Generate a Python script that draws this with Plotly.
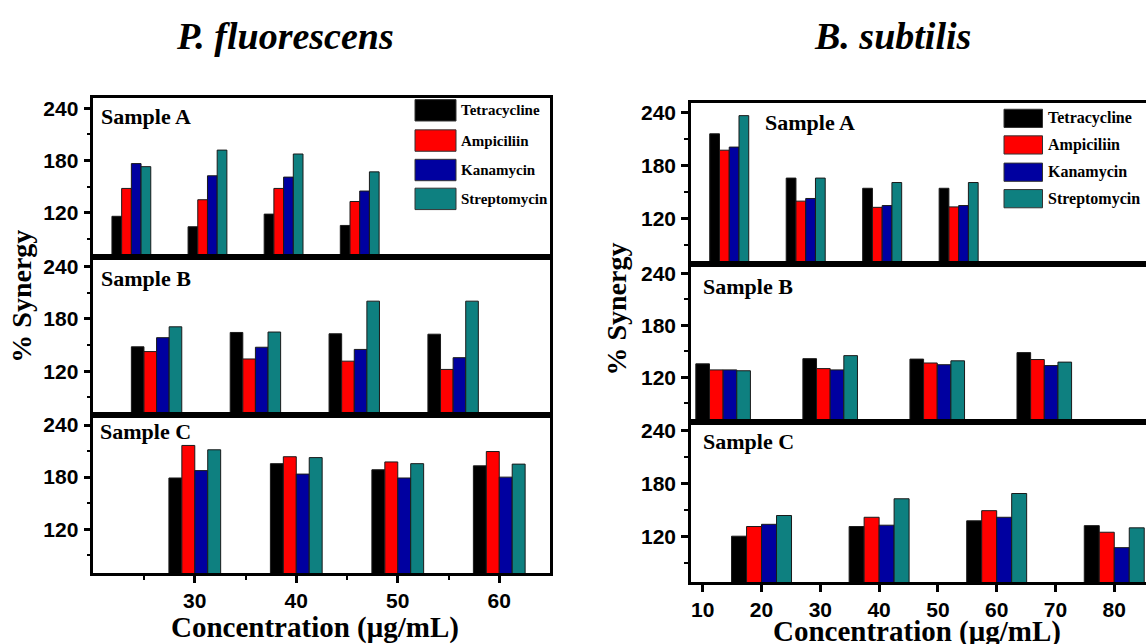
import plotly.graph_objects as go

# ---- data -------------------------------------------------------------
antibiotics = ["Tetracycline", "Ampiciliin", "Kanamycin", "Streptomycin"]
bar_colors = ["#000000", "#FF0000", "#0000A0", "#0E8080"]

conc_pf = [30, 40, 50, 60]          # P. fluorescens concentrations (µg/mL)
conc_bs = [20, 40, 60, 80]          # B. subtilis concentrations (µg/mL)

# % synergy, P. fluorescens
pf_a_tetra = [116, 104, 118.5, 105.5]
pf_a_ampi = [148, 135, 148, 133]
pf_a_kana = [176.5, 162.5, 161, 145]
pf_a_strep = [173, 192, 187.5, 167]

pf_b_tetra = [148, 164.5, 163, 162.5]
pf_b_ampi = [142.5, 134, 131.5, 122]
pf_b_kana = [158.5, 147.5, 145, 135.5]
pf_b_strep = [171, 165, 200.5, 200.5]

pf_c_tetra = [179, 195.5, 188.5, 193]
pf_c_ampi = [216.5, 203.5, 197.5, 209.5]
pf_c_kana = [187.5, 183.5, 179, 180]
pf_c_strep = [211.5, 202.5, 195.5, 195]

# % synergy, B. subtilis
bs_a_tetra = [216, 166, 154.5, 154.5]
bs_a_ampi = [197.5, 140, 133, 133.5]
bs_a_kana = [201, 143, 135, 135]
bs_a_strep = [236.5, 166, 161, 161]

bs_b_tetra = [135.5, 141.5, 141, 148.5]
bs_b_ampi = [128.5, 130, 136.5, 140.5]
bs_b_kana = [128.5, 128.5, 134.5, 133.5]
bs_b_strep = [127.5, 145, 139, 137.5]

bs_c_tetra = [120.5, 131.5, 138, 132.5]
bs_c_ampi = [131.5, 142, 149.5, 125]
bs_c_kana = [134, 133, 142, 107.5]
bs_c_strep = [144, 163, 169, 130]

y_ticks = [120, 180, 240]
y_minor = [90, 150, 210]
pf_x_ticks = [30, 40, 50, 60]
pf_x_minor = [25, 35, 45, 55]
bs_x_ticks = [10, 20, 30, 40, 50, 60, 70, 80]

# ---- page geometry (pixels) ------------------------------------------
W, H = 1146, 644


def fx(p):
    return p / W


def fy(p):
    return 1 - p / H


SERIF = "Liberation Serif"
SANS = "Liberation Sans"

panels = [
    # n, x values, series, x range, y range, x domain px, y domain px, label, left chart?
    (1, conc_pf, [pf_a_tetra, pf_a_ampi, pf_a_kana, pf_a_strep], [25, 85], [69.5, 251.5],
     (93.3, 550), (95.7, 255), "Sample A", True),
    (2, conc_pf, [pf_b_tetra, pf_b_ampi, pf_b_kana, pf_b_strep], [23.6, 69.8], [69.5, 251.5],
     (93.3, 550), (255, 414), "Sample B", True),
    (3, conc_pf, [pf_c_tetra, pf_c_ampi, pf_c_kana, pf_c_strep], [20, 65], [69.5, 251.5],
     (93.3, 550), (414, 572.7), "Sample C", True),
    (4, conc_bs, [bs_a_tetra, bs_a_ampi, bs_a_kana, bs_a_strep], [10, 129], [68.5, 250.5],
     (691, 1146), (100.7, 262.7), "Sample A", False),
    (5, conc_bs, [bs_b_tetra, bs_b_ampi, bs_b_kana, bs_b_strep], [14, 99], [68.5, 250.5],
     (691, 1146), (262.7, 420.7), "Sample B", False),
    (6, conc_bs, [bs_c_tetra, bs_c_ampi, bs_c_kana, bs_c_strep], [8, 85.4], [68.5, 250.5],
     (691, 1146), (420.7, 581.7), "Sample C", False),
]

fig = go.Figure()
layout = {}
annotations = []
shapes = []

label_pos = {
    1: (98.5, 114), 2: (98.5, 277), 3: (97.5, 430.5),
    4: (762.5, 120), 5: (700.5, 285), 6: (700.5, 441),
}

tick_font = dict(family=SANS, size=21, color="black", weight="bold")

for n, xs, series, xr, yr, (x0, x1), (y0, y1), label, left in panels:
    xa = "x" if n == 1 else f"x{n}"
    ya = "y" if n == 1 else f"y{n}"
    for name, color, vals in zip(antibiotics, bar_colors, series):
        fig.add_trace(go.Bar(
            x=xs, y=vals, name=name, xaxis=xa, yaxis=ya,
            marker=dict(color=color, line=dict(color="#1a1a1a", width=1)),
            showlegend=False,
        ))
    bottom = n in (3, 6)
    xaxis = dict(
        domain=[fx(x0), fx(x1)], range=xr, anchor=ya,
        showline=True, linewidth=2.5, linecolor="black", mirror=True,
        showgrid=False, zeroline=False, fixedrange=True,
    )
    if bottom:
        xaxis.update(
            tickvals=pf_x_ticks if left else bs_x_ticks,
            ticks="outside", ticklen=7, tickwidth=2.5, tickcolor="black",
            tickfont=tick_font,
            ticklabelstandoff=0,
        )
        if left:
            xaxis["minor"] = dict(tickvals=pf_x_minor, ticks="outside",
                                  ticklen=4, tickwidth=2, tickcolor="black")
    else:
        xaxis.update(showticklabels=False, ticks="")
    yaxis = dict(
        domain=[fy(y1), fy(y0)], range=yr, anchor=xa,
        showline=True, linewidth=2.5, linecolor="black", mirror=left,
        showgrid=False, zeroline=False, fixedrange=True,
        tickvals=y_ticks, ticks="outside", ticklen=7, tickwidth=2.5, tickcolor="black",
        tickfont=tick_font, ticklabelstandoff=1,
        minor=dict(tickvals=y_minor, ticks="outside", ticklen=4, tickwidth=2,
                   tickcolor="black"),
    )
    layout["xaxis" if n == 1 else f"xaxis{n}"] = xaxis
    layout["yaxis" if n == 1 else f"yaxis{n}"] = yaxis

    lx, ly = label_pos[n]
    annotations.append(dict(
        text=label, xref="paper", yref="paper", x=fx(lx), y=fy(ly),
        xanchor="left", yanchor="middle", showarrow=False,
        font=dict(family=SERIF, size=22, color="black", weight="bold"),
    ))

# legend swatches and names inside each "Sample A" panel
legend_specs = [
    # box x0, box x1, text x, row centres, box height, font size
    (415, 456, 459, [107.8, 138.2, 167.8, 196.8], 21.5, 15),
    (1004, 1042.5, 1046, [115.9, 142.6, 170.0, 196.6], 18.3, 16),
]
for bx0, bx1, tx, rows, bh, fs in legend_specs:
    for name, color, cy in zip(antibiotics, bar_colors, rows):
        shapes.append(dict(
            type="rect", xref="paper", yref="paper",
            x0=fx(bx0), x1=fx(bx1), y0=fy(cy + bh / 2), y1=fy(cy - bh / 2),
            fillcolor=color, line=dict(color="#333333", width=1),
        ))
        annotations.append(dict(
            text=name, xref="paper", yref="paper", x=fx(tx), y=fy(cy),
            xanchor="left", yanchor="middle", showarrow=False,
            font=dict(family=SERIF, size=fs, color="black", weight="bold"),
        ))

# chart titles
for text, cx in [("P. fluorescens", 285), ("B. subtilis", 892)]:
    annotations.append(dict(
        text=text, xref="paper", yref="paper", x=fx(cx), y=fy(33),
        xanchor="center", yanchor="middle", showarrow=False,
        font=dict(family=SERIF, size=38, color="black", weight="bold", style="italic"),
    ))

# y-axis titles
for cx, cy in [(22, 295), (617, 308)]:
    annotations.append(dict(
        text="% Synergy", xref="paper", yref="paper", x=fx(cx), y=fy(cy),
        xanchor="center", yanchor="middle", showarrow=False, textangle=-90,
        font=dict(family=SERIF, size=28, color="black", weight="bold"),
    ))

# x-axis titles
for cx, cy in [(314.5, 627), (917, 631)]:
    annotations.append(dict(
        text="Concentration (μg/mL)", xref="paper", yref="paper", x=fx(cx), y=fy(cy),
        xanchor="center", yanchor="middle", showarrow=False,
        font=dict(family=SERIF, size=29, color="black", weight="bold"),
    ))

fig.update_layout(
    **layout,
    width=W, height=H,
    margin=dict(l=0, r=0, t=0, b=0),
    paper_bgcolor="white", plot_bgcolor="white",
    barmode="group", bargap=0.49, bargroupgap=0,
    annotations=annotations, shapes=shapes,
    showlegend=False,
)

fig.write_html("out.html")
